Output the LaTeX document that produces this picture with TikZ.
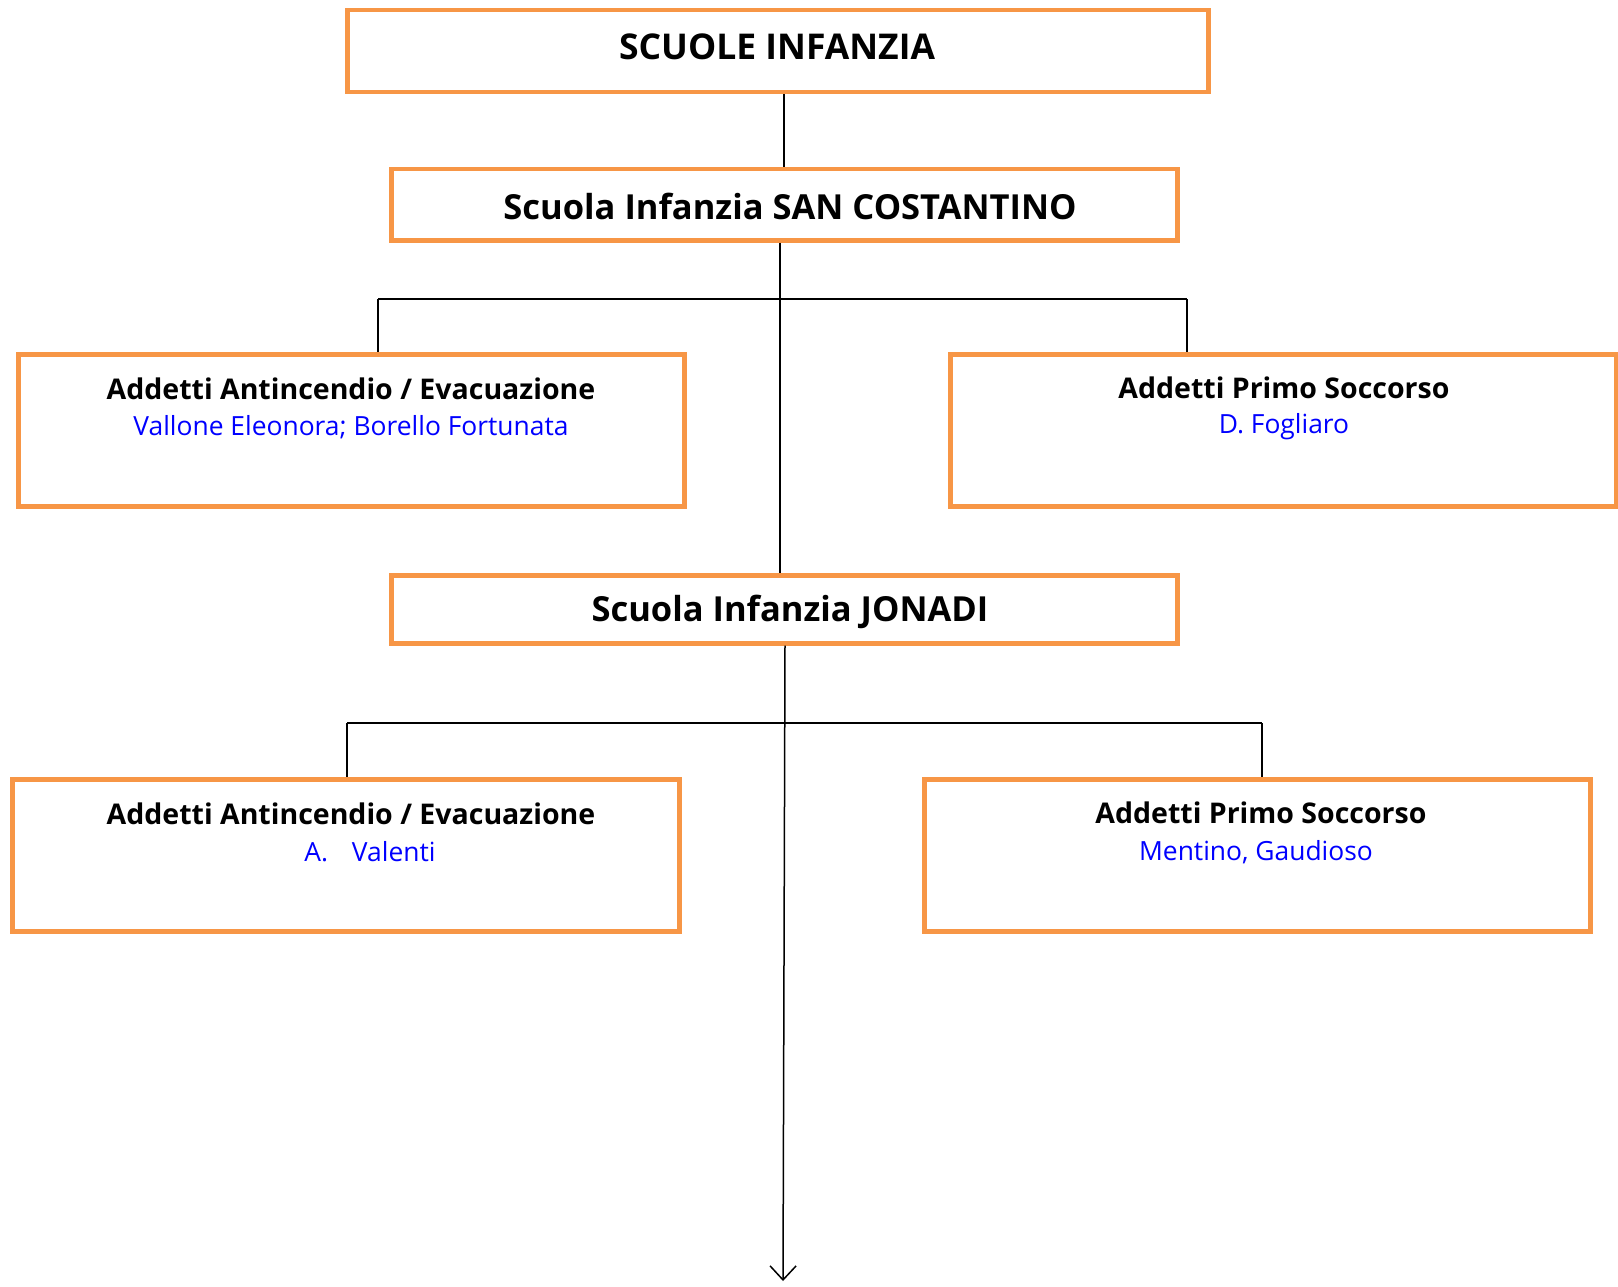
\documentclass[tikz,border=0pt]{standalone}
\usepackage{fontspec}
\setmainfont{Open Sans}
\usetikzlibrary{arrows.meta}
\definecolor{boxorange}{HTML}{F79646}
\definecolor{nameblue}{HTML}{0000FF}
\begin{document}
\begin{tikzpicture}[x=1pt,y=-1pt,
  box/.style={draw=boxorange,line width=4.5pt,fill=white,minimum width=#1,inner sep=0pt,anchor=north west},
  head/.style={font=\bfseries\fontsize{34.5}{40}\selectfont,inner sep=0pt},
  ttl/.style={font=\bfseries\fontsize{28.5}{33}\selectfont,inner sep=0pt},
  nm/.style={font=\fontsize{26.4}{30}\selectfont,text=nameblue,inner sep=0pt},
  conn/.style={draw=black,line width=1.5pt}]
\useasboundingbox (0,0) rectangle (1618,1287);
% boxes
\node[box=861pt,minimum height=82pt] (top) at (345,8) {};
\node[box=786pt,minimum height=71pt] (san) at (389,167) {};
\node[box=666pt,minimum height=152pt] (a1) at (16,352) {};
\node[box=666pt,minimum height=152pt] (p1) at (948,352) {};
\node[box=786pt,minimum height=68pt] (jon) at (389,573) {};
\node[box=667pt,minimum height=152pt] (a2) at (10,777) {};
\node[box=666pt,minimum height=152pt] (p2) at (922,777) {};
% texts
\node[head,font=\bfseries\fontsize{35.5}{40}\selectfont] (ttop) at (777,47) {SCUOLE INFANZIA};
\node[head] (tsan) at (790,206) {Scuola Infanzia SAN COSTANTINO};
\node[head] (tjon) at (790,612) {Scuola Infanzia JONADI};
\node[ttl] (ta1) at (351,389) {Addetti Antincendio / Evacuazione};
\node[nm] (na1) at (351,427) {Vallone Eleonora; Borello Fortunata};
\node[ttl] (tp1) at (1284,388) {Addetti Primo Soccorso};
\node[nm] (np1) at (1284,427) {D. Fogliaro};
\node[ttl] (ta2) at (351,814) {Addetti Antincendio / Evacuazione};
\node[nm] (na2) at (370,852) {A.\hspace{0.9em}Valenti};
\node[ttl] (tp2) at (1261,813) {Addetti Primo Soccorso};
\node[nm] (np2) at (1256,852) {Mentino, Gaudioso};
% connectors
\coordinate (bl1) at (378,299);
\coordinate (br1) at (1187,299);
\coordinate (bl2) at (347,723);
\coordinate (br2) at (1262,723);
\coordinate (end) at (783,1281);
\draw[conn] (top.south -| 784,0) -- (san.north -| 784,0);
\draw[conn] (san.south -| 780,0) -- (jon.north -| 780,0);
\draw[conn] (bl1) -- (br1);
\draw[conn] (bl1) -- (bl1 |- a1.north);
\draw[conn] (br1) -- (br1 |- p1.north);
\draw[conn] (bl2) -- (br2);
\draw[conn] (bl2) -- (bl2 |- a2.north);
\draw[conn] (br2) -- (br2 |- p2.north);
\draw[conn,-{Straight Barb[length=14pt,width=26pt,line width=1.5pt]}] (jon.south -| 785,0) -- (end);
\end{tikzpicture}
\end{document}
